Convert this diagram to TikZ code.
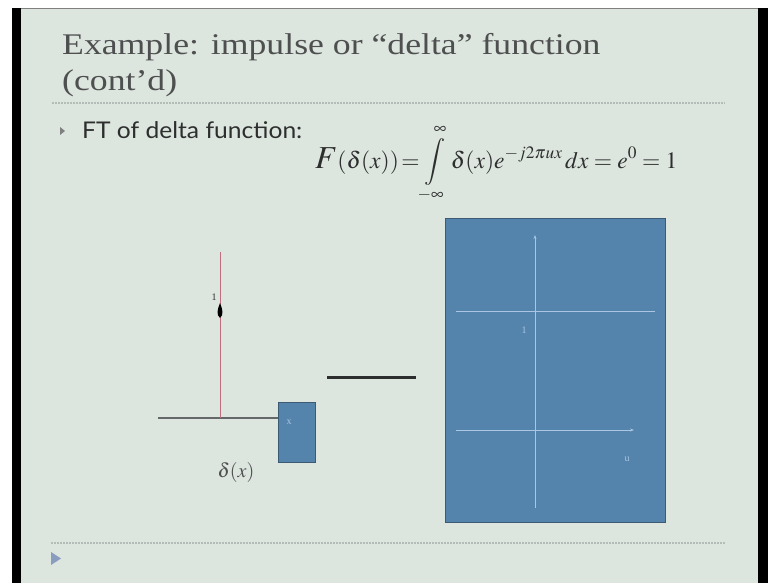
\documentclass[tikz,border=0pt]{standalone}
\usepackage{mathptmx}
\usepackage{fontspec}
\setmainfont{Liberation Serif}
\newfontfamily\titlefont[FakeStretch=1.19]{Liberation Serif}
\newfontfamily\gillfont[FakeStretch=1.07]{Lato}
\usetikzlibrary{arrows.meta}
\definecolor{slidebg}{RGB}{221,229,223}
\definecolor{titlegray}{RGB}{78,80,80}
\definecolor{bodydark}{RGB}{45,47,47}
\definecolor{boxblue}{RGB}{84,131,172}
\definecolor{boxedge}{RGB}{60,90,115}
\definecolor{axislight}{RGB}{170,198,226}
\definecolor{dotgray}{RGB}{180,188,184}
\definecolor{deltared}{RGB}{190,110,125}
\definecolor{axisgray}{RGB}{100,104,104}
\definecolor{bulletblue}{RGB}{138,156,192}
\tikzset{
  titletext/.style={anchor=base west, inner sep=0, text=titlegray, font=\titlefont\fontsize{30}{30}\selectfont},
  bodytext/.style={anchor=base west, inner sep=0, text=bodydark, font=\gillfont\fontsize{23}{23}\selectfont},
  dotline/.style={dotgray, line width=1.2pt, dash pattern=on 1.5pt off 1.5pt},
  bluebox/.style={fill=boxblue, draw=boxedge, line width=0.6pt},
  lightaxis/.style={axislight, line width=1pt},
  smalllabel/.style={inner sep=0, font=\fontsize{10}{10}\selectfont},
}
\begin{document}
\begin{tikzpicture}[x=1pt, y=-1pt]
\useasboundingbox (0,0) rectangle (768,583);
% frame
\fill[white] (0,0) rectangle (768,583);
\fill[black] (12,8) rectangle (21,583);
\fill[black] (758,8) rectangle (768,583);
\fill[slidebg] (21,8) rectangle (758,583);
\draw[gray, line width=0.8pt] (21,8.5) -- (758,8.5);
% title
\node[titletext] (t1) at (62,55) {Example: impulse or “delta” function};
\node[titletext] (t2) at (62,91) {(cont’d)};
\coordinate (d1a) at (52,103);
\coordinate (d1b) at (725,103);
\draw[dotline] (d1a) -- (d1b);
% bullet
\fill[gray] (60,127) -- (65,131) -- (60,135) -- cycle;
\node[bodytext] (ft) at (82,139) {FT of delta function:};
% formula
\node[anchor=base west, inner sep=0, text=bodydark] (eq) at (315,168)
  {\fontsize{23.5}{27}\selectfont$\displaystyle \mbox{\fontsize{32}{32}\selectfont$F$}(\delta(x))\!=\!\int\limits_{-\infty}^{\infty}\delta(x)e^{-j2\pi ux}\,dx=e^{0}=1$};
% left plot
\coordinate (axl) at (158,418);
\coordinate (axr) at (280,418);
\coordinate (dbot) at (220,418);
\coordinate (dtop) at (220,252);
\draw[axisgray, line width=1.2pt] (axl) -- (axr);
\draw[deltared, line width=1pt] (dbot) -- (dtop);
\fill[black] (220,303) .. controls (222.5,309) and (224,315) .. (220,318) .. controls (216,315) and (217.5,309) .. (220,303) -- cycle;
\node[smalllabel, text=bodydark] (one1) at (214,297) {1};
\node[bluebox, minimum width=37pt, minimum height=60pt, inner sep=0, anchor=north west] (xbox) at (278,402) {};
\node[smalllabel, text=axislight] (xl) at (289,422) {x};
\node[inner sep=0, text=titlegray, font=\fontsize{20}{20}\selectfont] (dl) at (236,472) {$\delta(x)$};
% transform arrow
\coordinate (ara) at (327,377);
\coordinate (arb) at (416,377);
\draw[bodydark, line width=3pt] (ara) -- (arb);
% right plot
\node[bluebox, minimum width=220pt, minimum height=304pt, inner sep=0, anchor=north west] (fbox) at (445,218) {};
\coordinate (vb) at (535,508);
\coordinate (vt) at (535,235);
\coordinate (hl) at (456,311);
\coordinate (hr) at (655,311);
\coordinate (al) at (456,430);
\coordinate (ar) at (634,430);
\draw[lightaxis, -{Stealth[length=4pt,width=3pt]}] (vb) -- (vt);
\draw[lightaxis] (hl) -- (hr);
\draw[lightaxis, -{Stealth[length=4pt,width=3pt]}] (al) -- (ar);
\node[smalllabel, text=axislight] (one2) at (524,330) {1};
\node[smalllabel, text=axislight] (ul) at (627,459) {u};
% bottom
\coordinate (d2a) at (51,543);
\coordinate (d2b) at (725,543);
\draw[dotline] (d2a) -- (d2b);
\fill[bulletblue] (51,552) -- (61,558.5) -- (51,565) -- cycle;
\end{tikzpicture}
\end{document}
